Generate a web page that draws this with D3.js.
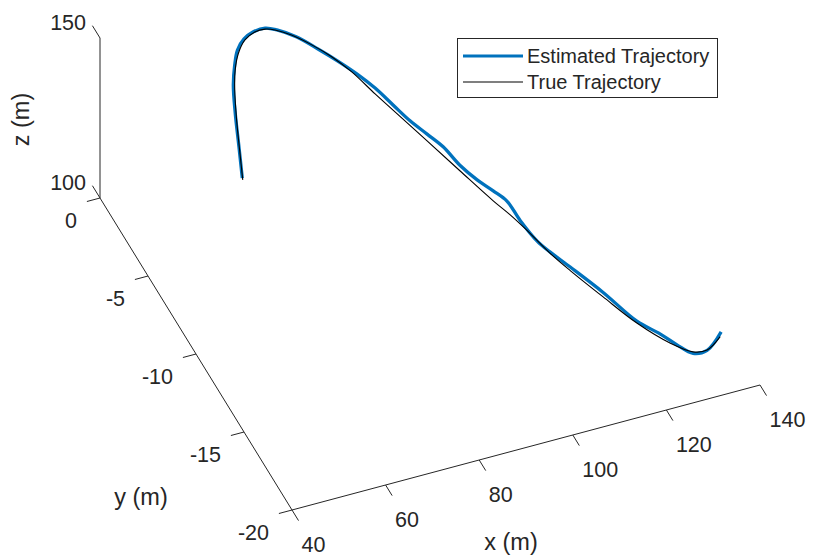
<!DOCTYPE html>
<html>
<head>
<meta charset="utf-8">
<script src="https://cdn.jsdelivr.net/npm/d3@7"></script>
<style>
  body { margin: 0; background: #fff; }
  svg text { font-family: "Liberation Sans", Arial, Helvetica, sans-serif; fill: #262626; }
</style>
</head>
<body>
<div id="chart"></div>
<script>
// axis ticks
var xTicks = [40, 60, 80, 100, 120, 140];
var yTicks = [0, -5, -10, -15, -20];
var zTicks = [100, 150];

// true trajectory (m)
var trueX = [66.4, 66.0, 65.5, 65.3, 65.6, 66.5, 67.9, 70.0, 72.2, 74.1, 76.2, 79.1, 81.7, 84.3, 87.5, 89.9, 94.3, 98.7, 103.1, 105.5, 107.6, 110.7, 113.4, 117.7, 122.3, 126.7, 129.8, 132.8, 135.6];
var trueY = [-2.0, -1.9, -1.8, -1.7, -1.6, -1.5, -1.5, -1.5, -1.5, -1.6, -2.3, -3.0, -3.8, -4.6, -5.5, -6.2, -7.6, -8.9, -10.2, -10.8, -11.5, -12.4, -13.2, -14.5, -15.8, -17.1, -18.0, -18.0, -18.0];
var trueZ = [105.1, 113.2, 123.2, 132.2, 137.8, 142.2, 145.8, 147.5, 147.5, 147.0, 148.0, 147.2, 146.4, 144.6, 140.8, 138.2, 133.7, 128.9, 124.2, 121.8, 119.6, 115.6, 113.0, 109.5, 105.8, 104.2, 104.6, 104.0, 107.1];

// estimated trajectory (m)
var estX = [66.3, 65.8, 65.2, 65.0, 65.5, 66.3, 67.7, 69.6, 72.2, 74.3, 77.0, 79.8, 82.4, 85.1, 87.5, 89.9, 92.1, 94.3, 96.5, 98.7, 101.1, 103.1, 105.0, 106.8, 109.0, 110.7, 113.4, 117.7, 122.3, 125.4, 127.6, 129.8, 132.8, 135.8];
var estY = [-2.0, -1.9, -1.8, -1.7, -1.6, -1.5, -1.5, -1.5, -1.5, -1.7, -2.4, -3.3, -4.1, -4.8, -5.5, -6.2, -6.9, -7.6, -8.2, -8.9, -9.5, -10.2, -10.7, -11.2, -11.9, -12.4, -13.2, -14.5, -15.8, -16.7, -17.4, -18.0, -18.0, -18.0];
var estZ = [105.7, 115.1, 125.5, 133.8, 139.4, 143.3, 146.2, 147.6, 147.8, 147.4, 147.6, 147.1, 146.2, 144.5, 142.6, 139.8, 137.4, 135.8, 133.9, 130.6, 128.1, 127.3, 125.8, 121.5, 117.6, 116.0, 114.1, 110.9, 106.4, 105.6, 104.7, 104.1, 103.9, 108.5];

var width = 815, height = 555;
var axisColor = "#262626";

var svg = d3.select("#chart").append("svg")
    .attr("width", width)
    .attr("height", height);

// 3d -> screen: each axis scale gives a fraction along its box edge
var xs = d3.scaleLinear().domain([40, 140]).range([0, 1]);
var ys = d3.scaleLinear().domain([0, -20]).range([0, 1]);
var zs = d3.scaleLinear().domain([100, 150]).range([0, 1]);
var origin = [100, 198],
    ex = [468, -125],
    ey = [192, 312],
    ez = [0, -160];

function project(x, y, z) {
  var a = xs(x), b = ys(y), c = zs(z);
  return [origin[0] + a * ex[0] + b * ey[0] + c * ez[0],
          origin[1] + a * ex[1] + b * ey[1] + c * ez[1]];
}

function seg(p, q) {
  svg.append("line")
      .attr("x1", p[0]).attr("y1", p[1])
      .attr("x2", q[0]).attr("y2", q[1])
      .style("stroke", axisColor)
      .style("stroke-width", 1);
}

// axis lines
seg(project(40, 0, 100), project(40, 0, 150));
seg(project(40, 0, 100), project(40, -20, 100));
seg(project(40, -20, 100), project(140, -20, 100));

// z ticks + labels
zTicks.forEach(function(t) {
  seg(project(40, 0, t), project(40, 0.79, t));
  var p = project(40, 0, t);
  svg.append("text")
      .attr("x", 86).attr("y", p[1] - 15.5)
      .attr("dy", "0.36em")
      .attr("text-anchor", "end")
      .style("font-size", "21.5px")
      .text(t);
});

// y ticks + labels
yTicks.forEach(function(t) {
  seg(project(40, t, 100), project(37.2, t, 100));
  var p = project(40, t, 100);
  svg.append("text")
      .attr("x", p[0] - 23).attr("y", p[1] + 22.5)
      .attr("dy", "0.36em")
      .attr("text-anchor", "end")
      .style("font-size", "21.5px")
      .text(t);
});

// x ticks + labels
xTicks.forEach(function(t) {
  seg(project(t, -20, 100), project(t, -20.68, 100));
  var p = project(t, -20, 100);
  svg.append("text")
      .attr("x", p[0] + 9.5).attr("y", p[1] + 34.5)
      .attr("dy", "0.36em")
      .style("font-size", "21.5px")
      .text(t);
});

// axis titles
svg.append("text")
    .attr("x", 511).attr("y", 542)
    .attr("dy", "0.36em")
    .attr("text-anchor", "middle")
    .style("font-size", "23.5px")
    .text("x (m)");
svg.append("text")
    .attr("x", 141).attr("y", 497)
    .attr("dy", "0.36em")
    .attr("text-anchor", "middle")
    .style("font-size", "23.5px")
    .text("y (m)");
svg.append("text")
    .attr("transform", "translate(21,119.5) rotate(-90)")
    .attr("dy", "0.36em")
    .attr("text-anchor", "middle")
    .style("font-size", "23.5px")
    .text("z (m)");

// trajectories
var line = d3.line()
    .x(function(d) { return d[0]; })
    .y(function(d) { return d[1]; })
    .curve(d3.curveCatmullRom.alpha(0.5));

var estPts = estX.map(function(x, i) { return project(x, estY[i], estZ[i]); });
var truePts = trueX.map(function(x, i) { return project(x, trueY[i], trueZ[i]); });

svg.append("path")
    .attr("d", line(estPts))
    .style("fill", "none")
    .style("stroke", "#0072BD")
    .style("stroke-width", 3.3)
    .style("stroke-linejoin", "round");

svg.append("path")
    .attr("d", line(truePts))
    .style("fill", "none")
    .style("stroke", "#000")
    .style("stroke-width", 1.1)
    .style("stroke-linejoin", "round");

// legend
var lg = svg.append("g");
lg.append("rect")
    .attr("x", 457.5).attr("y", 38.5)
    .attr("width", 260).attr("height", 59)
    .style("fill", "#fff")
    .style("stroke", axisColor)
    .style("stroke-width", 1);
var items = [
  { name: "Estimated Trajectory", color: "#0072BD", w: 3, y: 56 },
  { name: "True Trajectory", color: "#000", w: 1.1, y: 82 }
];
items.forEach(function(d) {
  lg.append("line")
      .attr("x1", 463).attr("x2", 523)
      .attr("y1", d.y).attr("y2", d.y)
      .style("stroke", d.color)
      .style("stroke-width", d.w);
  lg.append("text")
      .attr("x", 527).attr("y", d.y)
      .attr("dy", "0.36em")
      .style("font-size", "20px")
      .text(d.name);
});
</script>
</body>
</html>
